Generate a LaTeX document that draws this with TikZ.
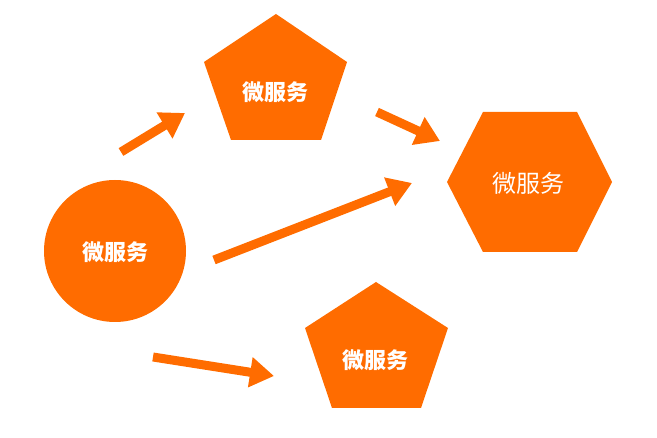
\documentclass[tikz,border=0pt]{standalone}
\usepackage{fontspec}
\newfontfamily\cjk{Noto Sans CJK SC}
\usetikzlibrary{arrows.meta}
\definecolor{ms}{HTML}{FF6C00}
\tikzset{
  shapefill/.style={fill=ms, draw=none},
  lbl/.style={text=white, font=\cjk\bfseries\fontsize{22}{25}\selectfont, inner sep=0pt},
  lbllight/.style={text=white, font=\cjk\fontsize{24}{27}\selectfont, inner sep=0pt},
  fatarrow/.style={draw=ms, line width=9pt, -{Triangle[width=29pt,length=24pt]}}
}
\begin{document}
\begin{tikzpicture}[x=1pt,y=-1pt]
\useasboundingbox (0,0) rectangle (657,438);
% circle
\fill[shapefill] (115,251) circle (71);
\node[lbl] (c) at (115,252) {微服务};
% top pentagon
\fill[shapefill] (276,14) -- (347,62) -- (321,140) -- (231,140) -- (204,62) -- cycle;
\node[lbl] (p1) at (275,92) {微服务};
% hexagon
\fill[shapefill] (483,112) -- (577,112) -- (612,182) -- (577,252) -- (483,252) -- (447,182) -- cycle;
\node[lbllight] (h) at (528,183) {微服务};
% bottom pentagon
\fill[shapefill] (376,282) -- (448,328) -- (421,408) -- (332,408) -- (305,328) -- cycle;
\node[lbl] (p2) at (375,360) {微服务};
% arrow ends
\coordinate (a1s) at (121,152); \coordinate (a1e) at (185,113);
\coordinate (a2s) at (377,112); \coordinate (a2e) at (440,141);
\coordinate (a3s) at (214,260); \coordinate (a3e) at (412,183);
\coordinate (a4s) at (153,357); \coordinate (a4e) at (274,376);
\draw[fatarrow] (a1s) -- (a1e);
\draw[fatarrow] (a2s) -- (a2e);
\draw[fatarrow] (a3s) -- (a3e);
\draw[fatarrow] (a4s) -- (a4e);
\end{tikzpicture}
\end{document}
